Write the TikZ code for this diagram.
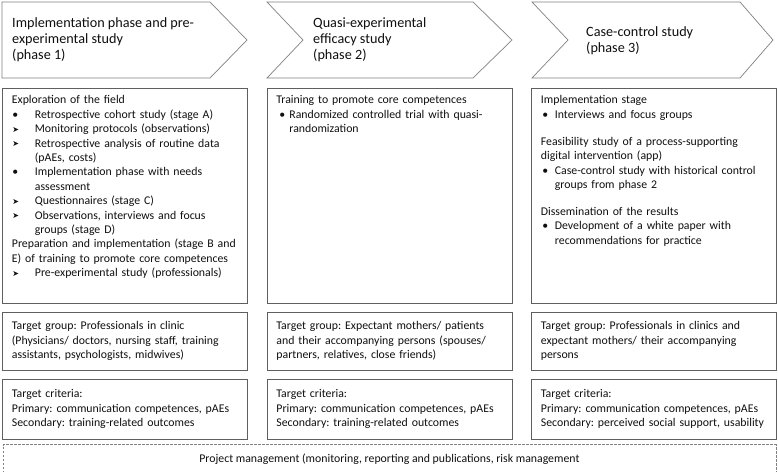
\documentclass[tikz,border=0pt]{standalone}
\usepackage{fontspec}
\setmainfont{Carlito}
\newfontfamily\symfont{DejaVu Sans}
\usetikzlibrary{positioning}
\frenchspacing

\definecolor{boxline}{RGB}{95,95,95}
\definecolor{arrowline}{RGB}{128,128,128}
\definecolor{txt}{RGB}{15,15,15}

% bullets for the lists in the panels
\newlength\bulx
\newlength\hangw
\newcommand{\dotit}{\makebox[\hangw][l]{\hspace*{\bulx}•}}
\newcommand{\arrit}{\makebox[\hangw][l]{\hspace*{\bulx}\raisebox{0.3pt}{\symfont\fontsize{8}{8}\selectfont ➤}}}
\newcommand{\cont}{\hspace*{\hangw}}

\tikzset{
  phase/.style={draw=arrowline, line width=0.7pt},
  phasetext/.style={anchor=west, align=left, inner sep=0pt, text=txt,
    font=\fontsize{14.2}{16}\selectfont},
  panel/.style={draw=boxline, line width=0.8pt, anchor=north west,
    text width=226pt, inner xsep=9.5pt, inner ysep=0pt, align=left, text=txt,
    font=\fontsize{11.8}{14.4}\selectfont, text height=15.5pt, text depth=199.5pt},
  infobox/.style={draw=boxline, line width=0.8pt, text width=226pt,
    inner xsep=9.5pt, align=left, text=txt, font=\fontsize{11.8}{14.4}\selectfont},
  mgmtbox/.style={draw=arrowline, line width=0.7pt, dash pattern=on 2.5pt off 1.5pt,
    minimum width=773pt, minimum height=28pt, text=txt, font=\fontsize{11.8}{14.4}\selectfont}
}

\begin{document}
\begin{tikzpicture}[x=1pt,y=-1pt]
  \useasboundingbox (0,0) rectangle (778,471);

  % phase arrows
  \draw[phase] (2,2) -- (210,2) -- (247,40) -- (210,78) -- (2,78) -- cycle;
  \node[phasetext] (hdrA) at (12,40) {Implementation phase and pre-\\experimental study\\(phase 1)};

  \draw[phase] (267,2) -- (473,2) -- (512,40) -- (473,78) -- (267,78) -- (303,40) -- cycle;
  \node[phasetext] (hdrB) at (313,40) {Quasi-experimental\\efficacy study\\(phase 2)};

  \draw[phase] (532,2) -- (740,2) -- (773,40) -- (740,78) -- (532,78) -- (568,40) -- cycle;
  \node[phasetext] (hdrC) at (586,41) {Case-control study\\(phase 3)};

  % main panels
  \node[panel] (mainA) at (2,88) {\setlength{\bulx}{0.5pt}\setlength{\hangw}{23pt}%
    Exploration of the field\\
    \dotit Retrospective cohort study (stage A)\\
    \arrit Monitoring protocols (observations)\\
    \arrit Retrospective analysis of routine data\\
    \cont (pAEs, costs)\\
    \dotit Implementation phase with needs\\
    \cont assessment\\
    \arrit Questionnaires (stage C)\\
    \arrit Observations, interviews and focus\\
    \cont groups (stage D)\\
    Preparation and implementation (stage B and\\
    E) of training to promote core competences\\
    \arrit Pre-experimental study (professionals)};

  \node[panel] (mainB) at (266.5,88) {\setlength{\bulx}{3pt}\setlength{\hangw}{13pt}%
    Training to promote core competences\\
    \dotit Randomized controlled trial with quasi-\\
    \cont randomization};

  \node[panel] (mainC) at (531,88) {\setlength{\bulx}{1.5pt}\setlength{\hangw}{14pt}%
    Implementation stage\\
    \dotit Interviews and focus groups\\[12.5pt]
    Feasibility study of a process-supporting\\
    digital intervention (app)\\
    \dotit Case-control study with historical control\\
    \cont groups from phase 2\\[12.5pt]
    Dissemination of the results\\
    \dotit Development of a white paper with\\
    \cont recommendations for practice};

  % target groups
  \node[infobox, minimum height=58pt, below=8pt of mainA] (groupA)
    {Target group: Professionals in clinic\\(Physicians/ doctors, nursing staff, training\\assistants, psychologists, midwives)};
  \node[infobox, minimum height=58pt, below=8pt of mainB] (groupB)
    {Target group: Expectant mothers/ patients\\and their accompanying persons (spouses/\\partners, relatives, close friends)};
  \node[infobox, minimum height=58pt, below=8pt of mainC] (groupC)
    {Target group: Professionals in clinics and\\expectant mothers/ their accompanying\\persons};

  % target criteria
  \node[infobox, minimum height=60pt, below=8pt of groupA] (critA)
    {Target criteria:\\Primary: communication competences, pAEs\\Secondary: training-related outcomes};
  \node[infobox, minimum height=60pt, below=8pt of groupB] (critB)
    {Target criteria:\\Primary: communication competences, pAEs\\Secondary: training-related outcomes};
  \node[infobox, minimum height=60pt, below=8pt of groupC] (critC)
    {Target criteria:\\Primary: communication competences, pAEs\\Secondary: perceived social support, usability};

  % project management
  \node[mgmtbox, below=5pt of critB] (mgmt)
    {Project management (monitoring, reporting and publications, risk management};
\end{tikzpicture}
\end{document}
